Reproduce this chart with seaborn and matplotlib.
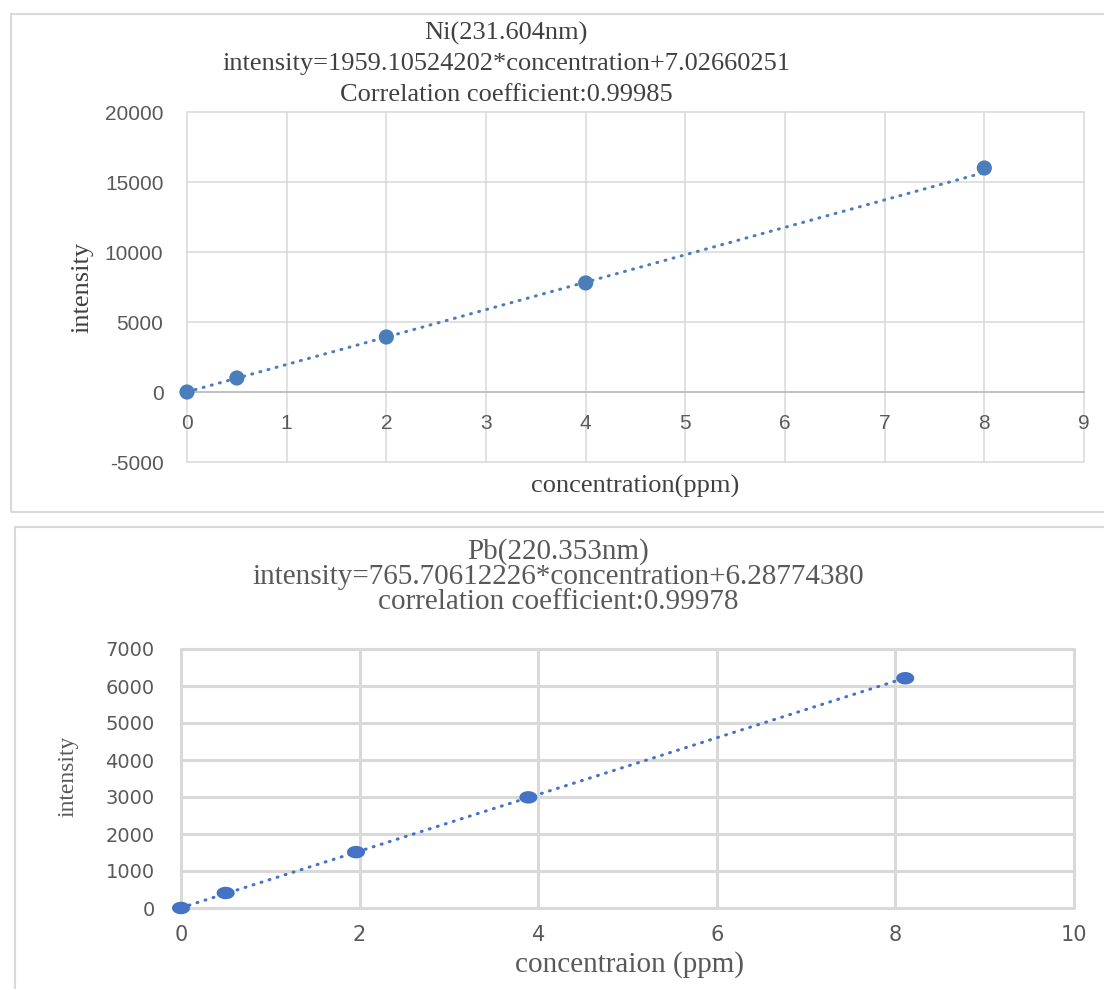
import numpy as np
import pandas as pd
import matplotlib.pyplot as plt
import seaborn as sns
from matplotlib.patches import Rectangle
from matplotlib.path import Path

# calibration points
ni_conc = [0, 0.5, 2, 4, 8]
ni_int = [0, 1000, 3930, 7790, 16000]
ni_slope, ni_icpt = 1959.10524202, 7.02660251

pb_conc = [0, 0.5, 1.96, 3.89, 8.11]
pb_int = [0, 405, 1510, 2990, 6210]
pb_slope, pb_icpt = 765.70612226, 6.28774380

ni_title = ['Ni(231.604nm)',
            'intensity=1959.10524202*concentration+7.02660251',
            'Correlation coefficient:0.99985']
pb_title = ['Pb(220.353nm)',
            'intensity=765.70612226*concentration+6.28774380',
            'correlation coefficient:0.99978']

ni_xticks = list(range(0, 10))
ni_yticks = [-5000, 0, 5000, 10000, 15000, 20000]
pb_xticks = [0, 2, 4, 6, 8, 10]
pb_yticks = [0, 1000, 2000, 3000, 4000, 5000, 6000, 7000]

sns.set_style('white')
plt.rcParams['axes.unicode_minus'] = False
serif = 'Liberation Serif'
W, H = 1104, 989

fig = plt.figure(figsize=(W / 100, H / 100), dpi=100)


def fx(x):
    return x / W


def fy(y):
    return 1 - y / H


# panel frames
fig.patches.append(Rectangle((fx(11), fy(512)), 1.2, fy(14) - fy(512), transform=fig.transFigure,
                             fill=False, edgecolor='#d9d9d9', lw=1.5))
fig.patches.append(Rectangle((fx(15), -0.2), 1.2, fy(527) + 0.2, transform=fig.transFigure,
                             fill=False, edgecolor='#d9d9d9', lw=1.5))


def trend(conc, slope, icpt):
    xs = np.array([min(conc), max(conc)])
    return pd.DataFrame({'x': xs, 'y': slope * xs + icpt})


# ---------- Ni panel ----------
ax1 = fig.add_axes([fx(187), fy(462), fx(897), 350 / H])
ni_df = pd.DataFrame({'conc': ni_conc, 'int': ni_int})
sns.lineplot(data=trend(ni_conc, ni_slope, ni_icpt), x='x', y='y', ax=ax1, color='#4a7ebb',
             lw=2.2, linestyle=(0, (0.3, 2.45)), dash_capstyle='round', zorder=3)
sns.scatterplot(data=ni_df, x='conc', y='int', ax=ax1, color='#4a7ebb', s=120,
                edgecolor='none', zorder=4, clip_on=False)
ax1.set_xlim(0, 9)
ax1.set_ylim(-5000, 20000)
ax1.set_xticks(ni_xticks)
ax1.set_yticks(ni_yticks)
ax1.grid(True, color='#d9d9d9', lw=1.1)
for sp in ['top', 'right', 'left']:
    ax1.spines[sp].set_visible(False)
ax1.spines['bottom'].set_position(('data', 0))
ax1.spines['bottom'].set_color('#bfbfbf')
ax1.spines['bottom'].set_linewidth(1.3)
ax1.tick_params(axis='x', length=0, pad=16, labelsize=15, labelcolor='#595959')
ax1.tick_params(axis='y', length=0, pad=17, labelsize=15, labelcolor='#595959')
for lab in ax1.get_xticklabels() + ax1.get_yticklabels():
    lab.set_fontfamily('Liberation Sans')
ax1.set_xlabel('concentration(ppm)', fontfamily=serif, fontsize=19, color='#404040',
               va='center')
ax1.set_ylabel('intensity', fontfamily=serif, fontsize=19, color='#404040',
               va='center', ha='center')
ax1.xaxis.set_label_coords(0.4994, -0.07)
ax1.yaxis.set_label_coords(-0.117, 0.5)

for i, line in enumerate(ni_title):
    fig.text(fx(506), fy(33 + 31 * i), line, fontfamily=serif, fontsize=19,
             color='#404040', ha='center', va='center')

# ---------- Pb panel ----------
ax2 = fig.add_axes([fx(181), fy(908), fx(893), 259 / H])
pb_df = pd.DataFrame({'conc': pb_conc, 'int': pb_int})
t = np.linspace(0, 2 * np.pi, 40)
ellipse = Path(np.column_stack([1.45 * np.cos(t), np.sin(t)]), closed=True)
sns.lineplot(data=trend(pb_conc, pb_slope, pb_icpt), x='x', y='y', ax=ax2, color='#4472c4',
             lw=2.2, linestyle=(0, (0.3, 2.45)), dash_capstyle='round', zorder=3)
sns.scatterplot(data=pb_df, x='conc', y='int', ax=ax2, color='#4472c4', s=170,
                marker=ellipse, edgecolor='none', zorder=4, clip_on=False)
ax2.set_xlim(0, 10)
ax2.set_ylim(0, 7000)
ax2.set_xticks(pb_xticks)
ax2.set_yticks(pb_yticks)
ax2.grid(True, color='#d9d9d9', lw=2.2)
for sp in ax2.spines.values():
    sp.set_visible(False)
ax2.tick_params(axis='x', length=0, pad=12, labelsize=15, labelcolor='#595959')
ax2.tick_params(axis='y', length=0, pad=19, labelsize=14, labelcolor='#595959')
ax2.set_xlabel('concentraion (ppm)', fontfamily=serif, fontsize=21, color='#595959',
               va='center')
ax2.set_ylabel('intensity', fontfamily=serif, fontsize=17, color='#595959',
               va='center', ha='center')
ax2.xaxis.set_label_coords(0.5017, -0.22)
ax2.yaxis.set_label_coords(-0.1265, 0.51)

for i, line in enumerate(pb_title):
    fig.text(fx(558), fy(552 + 25 * i), line, fontfamily=serif, fontsize=21,
             color='#595959', ha='center', va='center')

# show the boundary grid lines in full
for ax in (ax1, ax2):
    for gl in ax.get_xgridlines() + ax.get_ygridlines():
        gl.set_clip_on(False)

fig.savefig('out.png', dpi=100)
